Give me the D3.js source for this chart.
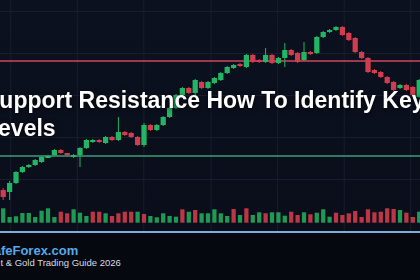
<!DOCTYPE html>
<html>
<head>
<meta charset="utf-8">
<script src="https://cdn.jsdelivr.net/npm/d3@7"></script>
<style>
  html, body { margin: 0; padding: 0; background: #070a12; }
  svg { display: block; }
</style>
</head>
<body>
<div id="chart-area"></div>
<script>
/* global d3 */
// candle data (price units are arbitrary)
const opens  = [20,18,27,38,43,45,48,53,55,60,57,54,55,62,68,70,67,73,70,78,77,73,65,85,80,85,93,102,115,122,117,128,122,127,130,137,142,146,143,155,150,148,155,147,152,160,157,150,158,157,173,178,180,183,177,172,158,152,140,138,133,128,122,125,123,113];
const closes = [13,27,38,43,45,50,53,54,60,57,55,55,62,70,70,68,73,70,78,75,73,65,85,80,85,93,102,115,122,117,130,122,128,132,137,143,145,144,155,148,148,155,147,152,160,155,148,158,156,173,178,180,183,175,170,158,152,138,137,133,127,120,125,120,115,130];
const highs  = [22,29,39,44,46,51,54,55,61,61,57,56,63,71,71,71,74,74,93,79,78,74,87,86,86,94,103,116,123,123,131,129,129,133,138,144,146,147,156,156,151,162,156,153,167,161,158,168,159,174,179,181,184,184,178,173,159,153,141,139,134,129,126,126,124,131];
const lows   = [10,10,26,37,42,44,47,52,54,56,54,52,43,61,67,67,66,69,69,74,72,64,63,79,79,84,92,101,114,116,114,121,121,126,129,136,141,143,142,147,147,147,146,146,143,154,147,149,155,156,172,177,179,174,169,157,151,137,136,132,126,119,121,119,114,112];
const volumes = [144,57,64,97,97,57,120,144,57,110,94,134,100,67,110,110,94,67,94,110,110,
  110,87,67,54,94,67,60,134,110,127,94,94,134,94,67,137,77,144,77,104,94,104,
  104,70,110,77,104,84,100,134,60,100,77,94,117,57,134,104,110,144,137,127,100,57,110];
// u = up bar, d = down bar
const volDir = [
  "u","u","u","u","u","u","u","u","u","d","d","u","u","u","d","d","u","d","d","d","d",
  "u","d","u","u","u","u","u","d","u","d","u","u","u","u","u","d","u","d","u","u","d","u",
  "u","u","d","d","u","d","u","u","u","d","d","d","d","d","d","d","d","d","d","u","d","d","u"];

const gridIdx = [1.1, 11.5, 21.9, 32.4, 42.8, 53.2, 63.6];
const gridPrices = [31, 73, 115, 157, 199];
const resistance = 149;
const support = 54;

const titleLines = ["Support Resistance How To Identify Key", "Levels"];
const brand = "SafeForex.com";
const subtitle = "Market & Gold Trading Guide 2026";

const width = 420, height = 280;
const upColor = "#22b563", downColor = "#d23c4e";

let svg = d3.select("#chart-area").append("svg")
  .attr("width", width).attr("height", height);

let defs = svg.append("defs");
let grad = defs.append("linearGradient").attr("id", "bg").attr("x1", 0).attr("y1", 0).attr("x2", 0).attr("y2", 1);
grad.append("stop").attr("offset", "0%").attr("stop-color", "#0c1120");
grad.append("stop").attr("offset", "100%").attr("stop-color", "#0a0e1a");

svg.append("rect").attr("width", width).attr("height", 232).attr("fill", "url(#bg)");
svg.append("rect").attr("y", 232).attr("width", width).attr("height", 48).attr("fill", "#06080f");

let n = opens.length;
let x = d3.scaleBand().domain(d3.range(n)).range([0, 422.4]).paddingInner(0.18).paddingOuter(0.09);
let bw = x.bandwidth();
let xi = d3.scaleLinear().domain([0, n - 1]).range([x(0) + bw / 2, x(n - 1) + bw / 2]);
let y = d3.scaleLinear().domain([0, 200]).range([210, 10]);
let v = d3.scaleLinear().domain([0, 160]).range([222.7, 206.7]);

// GRID
svg.append("g").attr("class", "grid")
  .attr("transform", "translate(0,232)")
  .call(d3.axisBottom(xi).tickValues(gridIdx).tickSize(-232).tickFormat(""));
svg.append("g").attr("class", "grid")
  .call(d3.axisRight(y).tickValues(gridPrices).tickSize(width).tickFormat(""));
svg.selectAll(".grid .domain").remove();
svg.selectAll(".grid line").attr("stroke", "#171e2e").attr("stroke-width", 1);

// support / resistance
svg.append("line").attr("x1", 0).attr("x2", width)
  .attr("y1", y(resistance)).attr("y2", y(resistance))
  .attr("stroke", "#d0465c").attr("stroke-width", 1.3);
svg.append("line").attr("x1", 0).attr("x2", width)
  .attr("y1", y(support)).attr("y2", y(support))
  .attr("stroke", "#3c9c78").attr("stroke-width", 1.6);

// VOLUME
svg.selectAll(".vol").data(volumes).enter().append("rect")
  .attr("class", "vol")
  .attr("x", (d, i) => x(i) + 0.5)
  .attr("y", d => v(d))
  .attr("width", bw - 1)
  .attr("height", d => v(0) - v(d))
  .attr("fill", (d, i) => volDir[i] === "u" ? "#1f9a55" : "#bd3646");

// CANDLES
let candles = svg.selectAll(".candle").data(d3.range(n)).enter().append("g").attr("class", "candle");
candles.append("line")
  .attr("x1", i => x(i) + bw / 2)
  .attr("x2", i => x(i) + bw / 2)
  .attr("y1", i => y(highs[i]))
  .attr("y2", i => y(lows[i]))
  .attr("stroke", i => closes[i] >= opens[i] ? upColor : downColor)
  .attr("stroke-width", 1);
candles.append("rect")
  .attr("x", i => x(i))
  .attr("y", i => y(Math.max(opens[i], closes[i])))
  .attr("width", bw)
  .attr("height", i => Math.max(2, Math.abs(y(opens[i]) - y(closes[i]))))
  .attr("fill", i => closes[i] >= opens[i] ? upColor : downColor);

// separator
svg.append("line").attr("x1", 0).attr("x2", width).attr("y1", 232).attr("y2", 232)
  .attr("stroke", "#7aaed8").attr("stroke-width", 2);

// TITLE
svg.selectAll(".title").data(titleLines).enter().append("text")
  .attr("class", "title")
  .attr("x", -16)
  .attr("y", (d, i) => 108 + i * 28)
  .style("font-family", "'Liberation Sans', Arial, sans-serif")
  .style("font-weight", "bold")
  .style("font-size", "23px")
  .style("fill", "#ffffff")
  .style("filter", "drop-shadow(0px 1px 2px rgba(0,0,0,0.8))")
  .text(d => d);

svg.append("text")
  .attr("x", -15).attr("y", 255)
  .style("font-family", "'Liberation Sans', Arial, sans-serif")
  .style("font-weight", "bold")
  .style("font-size", "13px")
  .style("fill", "#58a8e6")
  .text(brand);

svg.append("text")
  .attr("x", -26).attr("y", 266)
  .style("font-family", "'Liberation Sans', Arial, sans-serif")
  .style("font-size", "9.5px")
  .style("fill", "#d6dae3")
  .text(subtitle);
</script>
</body>
</html>
